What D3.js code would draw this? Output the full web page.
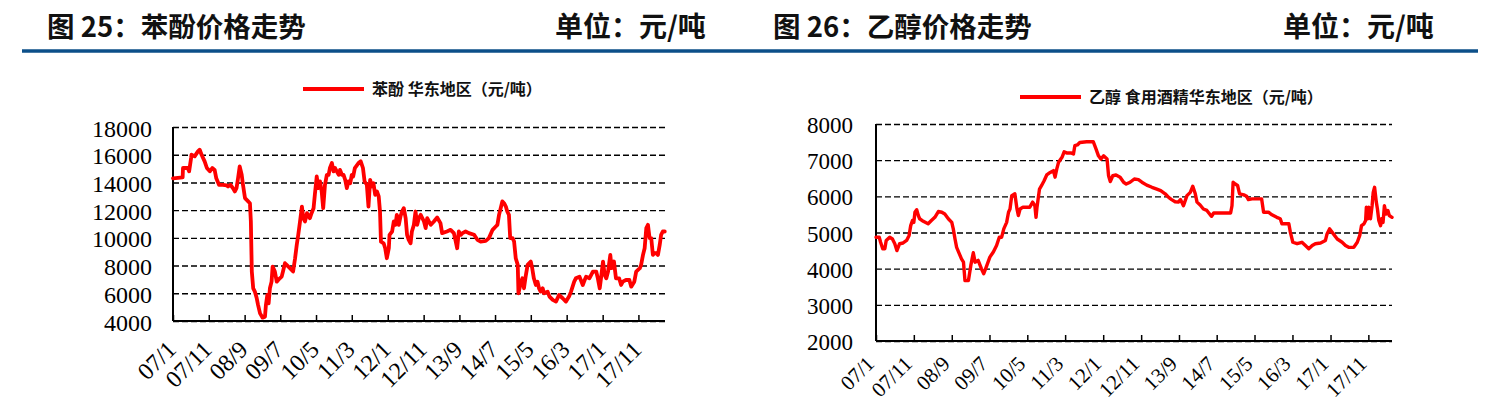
<!DOCTYPE html>
<html><head><meta charset="utf-8">
<script src="https://cdn.jsdelivr.net/npm/d3@7"></script>
<style>
body{margin:0;background:#fff;}
svg{display:block;}
</style></head><body>
<svg id="c" width="1495" height="416"></svg>
<script>
// ---------- DATA ----------
const phenolDates = ["2007-01-01","2007-03-24","2007-03-27","2007-05-07","2007-05-18","2007-06-04","2007-06-07","2007-07-04","2007-08-01","2007-08-16","2007-09-01","2007-09-27","2007-10-16","2007-11-10","2007-12-01","2007-12-21","2008-01-04","2008-01-27","2008-03-01","2008-04-01","2008-04-13","2008-05-04","2008-05-24","2008-06-10","2008-06-24","2008-07-07","2008-07-21","2008-08-07","2008-08-18","2008-09-04","2008-10-01","2008-10-16","2008-10-24","2008-11-01","2008-11-13","2008-11-27","2008-12-13","2008-12-24","2009-01-10","2009-02-01","2009-02-21","2009-03-01","2009-03-13","2009-03-24","2009-04-04","2009-04-18","2009-04-27","2009-05-16","2009-06-01","2009-06-27","2009-07-13","2009-07-24","2009-08-10","2009-08-24","2009-09-21","2009-10-18","2009-11-04","2009-11-18","2009-12-01","2009-12-16","2010-01-01","2010-01-13","2010-01-27","2010-02-13","2010-03-10","2010-03-24","2010-04-10","2010-04-21","2010-05-07","2010-05-21","2010-06-04","2010-06-18","2010-07-01","2010-07-16","2010-08-01","2010-08-16","2010-08-27","2010-09-13","2010-09-27","2010-10-10","2010-10-24","2010-11-10","2010-11-21","2010-12-07","2010-12-21","2011-01-04","2011-01-18","2011-02-01","2011-02-16","2011-03-01","2011-03-13","2011-03-27","2011-04-27","2011-05-16","2011-06-04","2011-06-18","2011-07-07","2011-07-21","2011-08-04","2011-08-18","2011-09-01","2011-09-16","2011-10-01","2011-10-16","2011-10-27","2011-11-04","2011-11-27","2011-12-10","2011-12-24","2012-01-10","2012-01-16","2012-02-07","2012-02-21","2012-03-07","2012-03-18","2012-04-04","2012-04-18","2012-05-01","2012-05-16","2012-06-01","2012-06-13","2012-06-27","2012-07-13","2012-07-24","2012-08-10","2012-08-24","2012-09-07","2012-09-21","2012-10-07","2012-11-04","2012-11-18","2012-12-01","2012-12-16","2013-01-01","2013-01-27","2013-02-24","2013-03-24","2013-04-07","2013-05-18","2013-06-18","2013-07-16","2013-08-01","2013-08-13","2013-08-27","2013-09-13","2013-09-27","2013-10-24","2013-11-21","2014-01-04","2014-02-01","2014-03-01","2014-04-13","2014-05-10","2014-06-10","2014-07-07","2014-07-21","2014-08-04","2014-08-18","2014-09-01","2014-09-16","2014-10-01","2014-10-13","2014-10-27","2014-11-07","2014-11-27","2014-12-10","2014-12-24","2015-01-10","2015-01-16","2015-02-07","2015-02-18","2015-03-04","2015-03-18","2015-04-04","2015-05-01","2015-05-13","2015-05-27","2015-06-13","2015-06-27","2015-07-10","2015-07-24","2015-08-10","2015-08-21","2015-09-21","2015-10-07","2015-11-04","2015-12-01","2015-12-27","2016-01-27","2016-02-24","2016-03-21","2016-04-07","2016-05-04","2016-05-18","2016-06-18","2016-07-16","2016-08-01","2016-08-13","2016-09-10","2016-10-10","2016-11-07","2016-11-21","2016-12-07","2016-12-18","2017-01-04","2017-01-18","2017-02-01","2017-02-16","2017-03-07","2017-03-18","2017-04-07","2017-04-24","2017-05-21","2017-06-07","2017-06-21","2017-07-18","2017-08-16","2017-09-01","2017-09-27","2017-10-13","2017-11-13","2017-11-24","2017-12-10","2017-12-24","2018-01-07","2018-01-21","2018-02-04","2018-02-18","2018-03-04","2018-03-18","2018-04-04","2018-04-16","2018-05-01","2018-05-13","2018-05-27","2018-06-13"];
const phenolValues = [14300,14360,15040,15040,14800,15760,16000,15880,16240,16360,16000,15520,15040,14800,15040,14900,14300,13830,13830,13780,13710,13830,13590,13350,13590,14300,15150,14550,13830,12870,12630,12500,11180,7570,6360,6120,5640,5160,4550,4240,4310,5160,5880,5280,6360,6840,7930,7570,6840,7080,7200,7570,8170,8050,7810,7570,8530,9490,10220,11180,12260,11420,11180,11780,11420,11780,12140,13110,14430,13590,14070,13350,12140,13830,14550,14550,15040,15400,14800,15040,14800,14550,14900,14550,14550,14190,13590,14070,13950,14550,14430,15040,15400,15520,15040,14070,13830,12260,14190,13710,13950,13110,13350,12990,11900,9730,9610,9250,8530,9250,10220,10460,11180,10940,11660,10940,11540,11900,12140,11420,10220,9860,9610,10460,10940,11900,10940,11420,11660,11180,10700,11420,11180,10940,11180,11470,11060,10340,10460,10580,10340,9730,9250,10460,10220,10340,10460,10340,10220,9860,9730,9780,9980,10580,10820,10940,11660,12140,12630,12500,12260,11900,11660,9980,9980,9730,8530,8050,6000,6840,7080,6360,7200,8050,8290,7810,7080,6600,6840,6360,6120,6360,6000,6120,5760,5520,5400,5880,5640,5400,5760,6120,6840,7080,7200,6600,6960,7200,7080,7570,7570,7080,6360,7080,8290,7330,7080,7570,8770,7810,8290,7080,7080,6600,6840,6960,6960,6480,6840,7570,7810,8050,8770,9250,10700,10940,9980,9980,8770,8890,8890,8770,9490,10220,10460,10460];

const ethanolDates = ["2007-01-01","2007-01-27","2007-02-07","2007-02-24","2007-03-13","2007-03-24","2007-04-21","2007-05-13","2007-06-01","2007-06-18","2007-07-10","2007-08-07","2007-09-04","2007-09-24","2007-10-07","2007-10-21","2007-11-01","2007-11-10","2007-11-24","2007-12-07","2007-12-18","2008-01-16","2008-02-24","2008-03-21","2008-04-18","2008-05-16","2008-06-13","2008-07-07","2008-08-04","2008-09-01","2008-09-13","2008-09-27","2008-10-10","2008-11-01","2008-11-18","2008-12-04","2008-12-16","2009-01-13","2009-02-01","2009-02-21","2009-03-07","2009-04-01","2009-04-27","2009-05-16","2009-06-10","2009-07-04","2009-08-01","2009-08-27","2009-09-18","2009-10-07","2009-10-24","2009-11-16","2009-12-01","2009-12-13","2009-12-27","2010-01-21","2010-02-07","2010-02-18","2010-03-04","2010-03-27","2010-04-24","2010-05-21","2010-06-13","2010-07-01","2010-07-10","2010-07-18","2010-08-07","2010-08-24","2010-09-13","2010-10-04","2010-11-01","2010-11-27","2010-12-10","2010-12-24","2011-01-07","2011-02-04","2011-02-21","2011-03-13","2011-04-16","2011-05-07","2011-05-18","2011-06-07","2011-06-27","2011-08-21","2011-10-13","2011-11-04","2011-11-24","2011-12-13","2012-01-04","2012-02-01","2012-02-13","2012-02-27","2012-03-18","2012-04-13","2012-05-16","2012-06-13","2012-07-04","2012-08-04","2012-09-07","2012-10-10","2012-11-07","2012-12-16","2013-01-27","2013-03-07","2013-04-07","2013-05-13","2013-06-10","2013-07-04","2013-08-01","2013-08-27","2013-09-13","2013-10-07","2013-11-04","2013-12-01","2013-12-21","2014-01-10","2014-01-24","2014-02-18","2014-03-16","2014-04-13","2014-05-10","2014-05-21","2014-06-07","2014-10-21","2014-11-01","2014-11-10","2014-11-27","2014-12-16","2015-01-01","2015-02-04","2015-02-27","2015-03-13","2015-04-10","2015-06-27","2015-07-13","2015-08-21","2015-09-18","2015-10-27","2015-11-24","2015-12-07","2016-02-01","2016-02-13","2016-03-04","2016-04-07","2016-05-16","2016-06-13","2016-07-10","2016-08-07","2016-09-01","2016-10-13","2016-11-21","2016-12-04","2016-12-24","2017-01-13","2017-02-24","2017-04-04","2017-05-01","2017-05-27","2017-07-07","2017-08-04","2017-08-24","2017-09-07","2017-09-27","2017-10-10","2017-10-16","2017-10-27","2017-11-04","2017-11-18","2017-12-01","2017-12-10","2017-12-21","2018-01-04","2018-01-13","2018-01-24","2018-02-07","2018-02-16","2018-02-27","2018-03-10","2018-03-24","2018-04-07","2018-04-18","2018-05-10"];
const ethanolValues = [4870,4870,4730,4550,4550,4780,4870,4820,4690,4500,4690,4710,4780,4920,5190,5330,5280,5560,5630,5470,5380,5310,5240,5330,5420,5580,5560,5510,5380,5280,5100,4820,4590,4410,4270,4180,3670,3670,4090,4440,4180,4230,4000,3860,4090,4320,4460,4640,4870,4870,5100,5280,5560,5650,6020,6070,5650,5470,5650,5700,5700,5700,5840,5740,5420,5700,6200,6300,6430,6590,6660,6710,6530,6760,6940,7080,7230,7200,7200,7170,7400,7420,7490,7510,7510,7310,7120,7030,7120,7030,6570,6410,6570,6590,6530,6390,6340,6390,6480,6460,6390,6310,6250,6200,6160,6070,5970,5910,5850,5840,5910,5740,6020,6110,6280,6070,5840,5760,5650,5610,5490,5450,5540,5540,5740,6390,6340,6300,6070,6040,6000,5910,5930,5930,5560,5560,5490,5420,5380,5240,5240,5010,4730,4690,4730,4640,4550,4640,4690,4710,4780,4960,5100,5010,4820,4730,4640,4590,4590,4730,4920,5190,5240,5330,5700,5380,5700,5380,5740,6110,6250,5840,5650,5330,5190,5380,5280,5740,5510,5610,5470,5420];

const tickDates = ["2007-01-01","2007-11-01","2008-09-01","2009-07-01","2010-05-01","2011-03-01","2012-01-01","2012-11-01","2013-09-01","2014-07-01","2015-05-01","2016-03-01","2017-01-01","2017-11-01"];
const tickLabels = ["07/1","07/11","08/9","09/7","10/5","11/3","12/1","12/11","13/9","14/7","15/5","16/3","17/1","17/11"];
const phenolYTicks = [4000,6000,8000,10000,12000,14000,16000,18000];
const ethanolYTicks = [2000,3000,4000,5000,6000,7000,8000];

const titles = ["图 25：苯酚价格走势","图 26：乙醇价格走势"];
const unitText = "单位：元/吨";
const legendTexts = ["苯酚 华东地区（元/吨）","乙醇 食用酒精华东地区（元/吨）"];

// ---------- DRAW ----------
const parse = d3.timeParse("%Y-%m-%d");
const svg = d3.select("#c");
const CJK = "'Noto Sans CJK SC','Noto Sans',sans-serif";
const SERIF = "'Liberation Serif','DejaVu Serif',serif";

// header rule
svg.append("line").attr("x1",22).attr("x2",1478).attr("y1",51).attr("y2",51)
  .attr("stroke","#0c4f89").attr("stroke-width",3.5);

function header(x, ux, t){
  svg.append("text").attr("x",x).attr("y",37).text(t)
    .attr("font-family",CJK).attr("font-weight","bold").attr("font-size",27.5).attr("fill","#111");
  svg.append("text").attr("x",ux).attr("y",37).text(unitText)
    .attr("font-family",CJK).attr("font-weight","bold").attr("font-size",28).attr("fill","#111");
}
header(47, 555, titles[0]);
header(773, 1283, titles[1]);

function chart(cfg){
  const dates = cfg.dates.map(parse);
  const x = d3.scaleTime().domain([parse("2007-01-01"), parse(cfg.end)]).range([cfg.x0, cfg.x1]);
  const y = d3.scaleLinear().domain(cfg.yDomain).range([cfg.y1, cfg.y0]);
  const g = svg.append("g");

  // grid + y labels
  const ya = d3.axisLeft(y).tickValues(cfg.yTicks).tickSize(-(cfg.x1-cfg.x0)).tickPadding(0)
    .tickFormat(d3.format("d"));
  const yg = g.append("g").attr("transform",`translate(${cfg.x0},0)`).call(ya);
  yg.select(".domain").remove();
  yg.selectAll(".tick line").attr("stroke","#000").attr("stroke-width",1.4).attr("stroke-dasharray","6,3");
  yg.selectAll(".tick text").attr("x",-cfg.ylabGap).attr("dy",cfg.ylabDy)
    .attr("font-family",SERIF).attr("font-size",cfg.yFont).attr("fill","#000");

  // y axis line
  g.append("line").attr("x1",cfg.x0).attr("x2",cfg.x0).attr("y1",cfg.y0).attr("y2",cfg.y1)
    .attr("stroke","#000").attr("stroke-width",2);

  // x axis
  const xa = d3.axisBottom(x).tickValues(tickDates.map(parse)).tickSize(-6)
    .tickFormat((d,i)=>tickLabels[i]);
  const xg = g.append("g").attr("transform",`translate(0,${cfg.y1})`).call(xa);
  xg.select(".domain").attr("stroke","#000").attr("stroke-width",2.2)
    .attr("d",`M${cfg.x0},0H${cfg.x1}`);
  xg.selectAll(".tick line").attr("stroke","#000").attr("stroke-width",1.5);
  xg.selectAll(".tick text").attr("y",0).attr("dy",0)
    .attr("text-anchor","end")
    .attr("transform",`translate(${cfg.xlabDx},${cfg.xlabDy}) rotate(-45)`)
    .attr("font-family",SERIF).attr("font-size",cfg.xFont).attr("fill","#000");

  // line
  const line = d3.line().x((d,i)=>x(dates[i])).y(d=>y(d));
  g.append("path").datum(cfg.values).attr("d",line)
    .attr("fill","none").attr("stroke","#ff0000").attr("stroke-width",cfg.lw)
    .attr("stroke-linejoin","round").attr("stroke-linecap","round");

  // legend
  g.append("line").attr("x1",cfg.lgX).attr("x2",cfg.lgX+61).attr("y1",cfg.lgY).attr("y2",cfg.lgY)
    .attr("stroke","#ff0000").attr("stroke-width",4);
  g.append("text").attr("x",cfg.lgX+69).attr("y",cfg.lgY+5.5).text(cfg.legend)
    .attr("font-family",CJK).attr("font-weight","bold").attr("font-size",16).attr("fill","#111");
}

chart({dates:phenolDates, values:phenolValues, end:"2018-06-15",
  x0:173, x1:665, y0:127, y1:321, yDomain:[4000,18000], yTicks:phenolYTicks,
  ylabGap:21, ylabDy:9, yFont:24, xFont:24, xlabDx:4, xlabDy:30, lw:3.8,
  lgX:303, lgY:89, legend:legendTexts[0]});

chart({dates:ethanolDates, values:ethanolValues, end:"2018-05-10",
  x0:876, x1:1392, y0:124, y1:341, yDomain:[2000,8000], yTicks:ethanolYTicks,
  ylabGap:23, ylabDy:8.5, yFont:23, xFont:21, xlabDx:-1, xlabDy:24, lw:3.4,
  lgX:1020, lgY:97, legend:legendTexts[1]});
</script>
</body></html>
